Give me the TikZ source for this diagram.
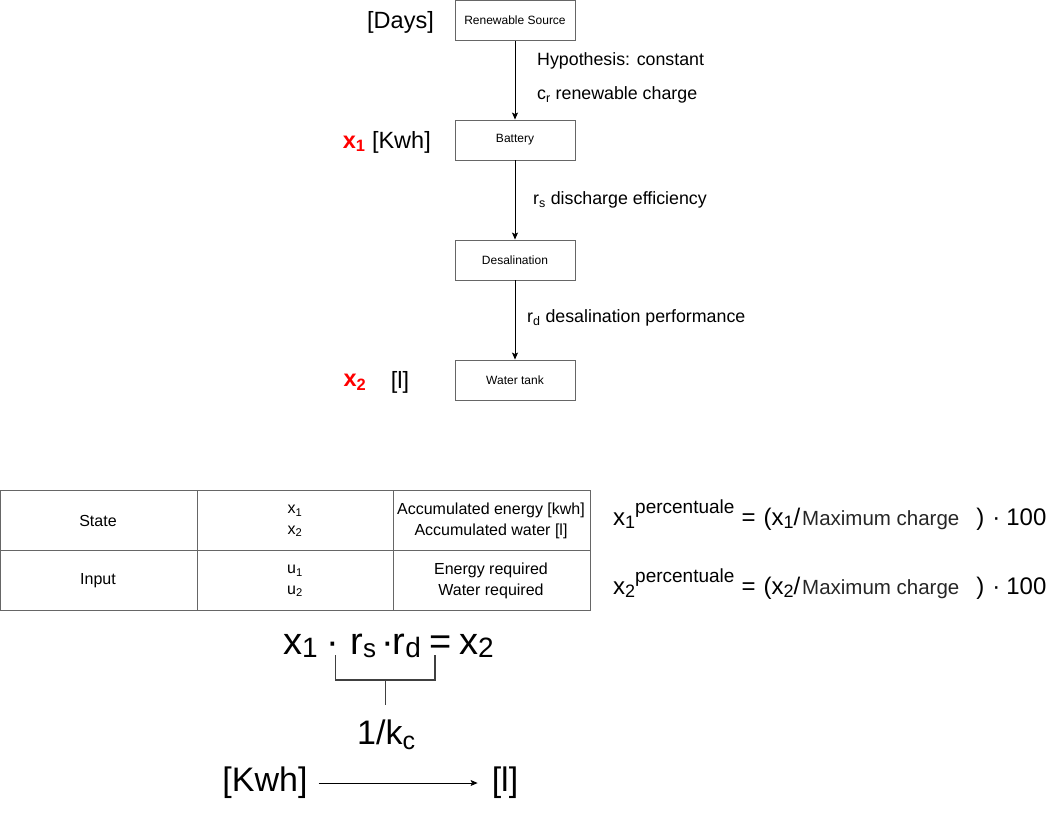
\documentclass[tikz,border=0pt]{standalone}
\usepackage{fontspec}
\setmainfont{Liberation Sans}
\usetikzlibrary{arrows.meta}
\newcommand\fs[2]{\fontsize{#1}{#2}\selectfont}
\newcommand\lo[1]{\textsubscript{#1}}
\newcommand\lowr[3]{\raisebox{#3}{\fontsize{#1}{#1}\selectfont #2}}
\newcommand\pct[1]{x\lowr{18}{#1}{-3pt}\raisebox{12pt}{\fs{19}{20}percentuale}\hspace{7pt}=\hspace{8pt}(x\lowr{18}{#1}{-3pt}/\hspace{2pt}{\fs{20.5}{22}\color{black!85}Maximum charge}\hspace{17pt})\hspace{8pt}·\hspace{6pt}100}
\begin{document}
\begin{tikzpicture}[x=1pt,y=-1pt,
  box/.style={draw=black!60, line width=0.9pt, minimum width=120pt, minimum height=40pt, inner sep=0pt, font=\fs{12}{14}},
  arr/.style={-{Stealth[length=7pt,width=6pt,inset=1.5pt]}, line width=0.8pt},
  lbl/.style={anchor=west, inner sep=0pt, font=\fs{17.8}{20}},
  cell/.style={align=center, inner sep=0pt, font=\fs{16}{20.5}},
  side/.style={inner sep=0pt, font=\fs{23.5}{28}},
  big/.style={inner sep=0pt, font=\fs{34}{40}},
  tline/.style={draw=black!60, line width=0.9pt}]
\useasboundingbox (0,0) rectangle (1061,816);
% flow chart
\node[box] (src) at (515,20.5) {Renewable Source};
\node[box] (bat) at (515,140) {Battery};
\node[box] (des) at (515,260) {Desalination};
\node[box] (tank) at (515,380) {Water tank};
\draw[arr] (src) -- (bat);
\draw[arr] (bat) -- (des);
\draw[arr] (des) -- (tank);
\node[lbl] (h1) at (537,61) {Hypothesis: constant};
\node[lbl] (h2) at (537,95) {c\lo{r} renewable charge};
\node[lbl] (h3) at (533,200) {r\lo{s} discharge efficiency};
\node[lbl] (h4) at (527,318) {r\lo{d} desalination performance};
% side labels
\node[side, anchor=east] (days) at (434,22) {[Days]};
\node[side, anchor=east] (xk) at (431,142) {\textcolor{red}{\textbf{x\lo{1}}} [Kwh]};
\node[side] (xtwo) at (355,382) {\textcolor{red}{\textbf{x\lo{2}}}};
\node[side] (lit) at (400,382) {[l]};
% table
\draw[tline] (0.5,490) rectangle (590,610);
\draw[tline] (0.5,550) -- (590,550);
\draw[tline] (197,490) -- (197,610);
\draw[tline] (393,490) -- (393,610);
\node[cell] (c11) at (98,521) {State};
\node[cell] (c12) at (295,521) {x\lo{1}\\x\lo{2}};
\node[cell] (c13) at (491,521) {Accumulated energy [kwh]\\Accumulated water [l]};
\node[cell] (c21) at (98,581) {Input};
\node[cell] (c22) at (295,581) {u\lo{1}\\u\lo{2}};
\node[cell] (c23) at (491,581) {Energy required\\Water required};
% percentages
\node[anchor=base west, inner sep=0pt, font=\fs{24}{28}] (p1) at (613,525) {\pct{1}};
\node[anchor=base west, inner sep=0pt, font=\fs{24}{28}] (p2) at (613,594) {\pct{2}};
% conversion
\node[anchor=base west, inner sep=0pt, font=\fs{38}{44}] (eq) at (283,654)
  {x\lowr{28}{1}{-3pt}\hspace{9pt}·\hspace{11pt}r\lowr{26}{s}{-3pt}\hspace{5pt}·\hspace{-1pt}r\lowr{28}{d}{-3pt}\hspace{9pt}=\hspace{7pt}x\lowr{28}{2}{-3pt}};
\coordinate (bl) at (335.5,655);
\coordinate (br) at (435,655);
\coordinate (bm) at (385.5,680);
\coordinate (bs) at (385.5,705);
\draw[black!75, line width=1.1pt] (bl) |- (br |- bm) -- (br);
\draw[black!75, line width=1.1pt] (bm) -- (bs);
\node[anchor=base west, inner sep=0pt, font=\fs{34}{40}] (kc) at (357,744) {1/k\lowr{25}{c}{-5pt}};
\node[big] (kwh) at (265,783) {[Kwh]};
\node[big] (lt) at (505,783) {[l]};
\draw[arr, shorten <=11pt, shorten >=14pt] (kwh) -- (lt);
\end{tikzpicture}
\end{document}
